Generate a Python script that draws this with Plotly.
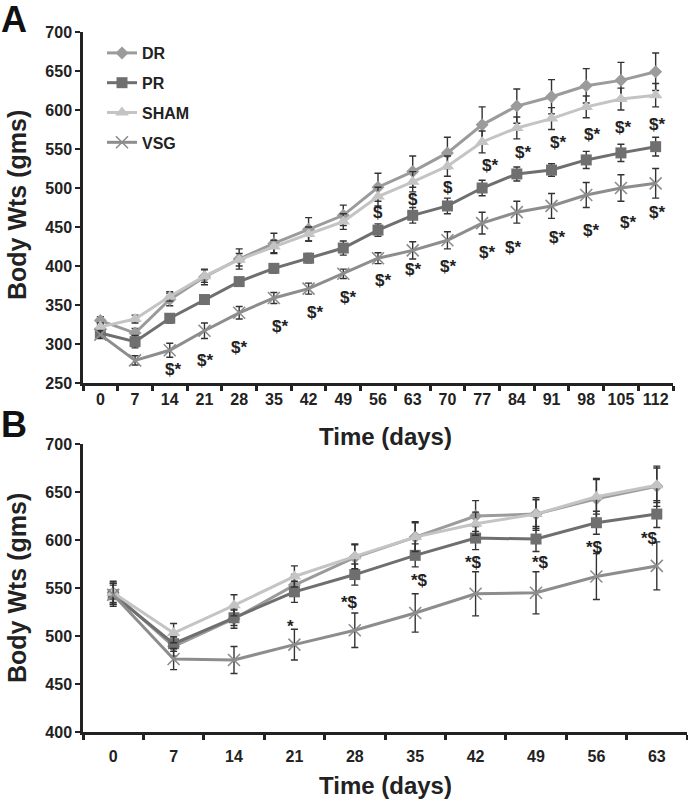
import plotly.graph_objects as go

# ---------------- data ----------------
days_a = [0, 7, 14, 21, 28, 35, 42, 49, 56, 63, 70, 77, 84, 91, 98, 105, 112]
dr_a = [330, 314, 357, 386, 409, 429, 447, 465, 501, 521, 545, 581, 605, 617, 631, 638, 649]
pr_a = [314, 303, 333, 357, 380, 397, 410, 423, 446, 465, 477, 500, 518, 523, 536, 545, 553]
sham_a = [322, 332, 361, 387, 408, 425, 441, 457, 489, 508, 528, 559, 577, 589, 604, 614, 619]
vsg_a = [312, 279, 292, 317, 340, 359, 371, 390, 410, 420, 433, 455, 469, 477, 491, 500, 506]
dr_a_err = [5, 6, 8, 10, 13, 13, 15, 13, 18, 20, 20, 23, 22, 22, 22, 23, 24]
pr_a_err = [6, 8, 6, 5, 5, 6, 6, 9, 8, 10, 10, 10, 9, 8, 11, 11, 12]
sham_a_err = [5, 5, 6, 8, 8, 8, 9, 10, 12, 13, 13, 14, 14, 14, 14, 14, 15]
vsg_a_err = [5, 6, 9, 10, 8, 7, 7, 6, 7, 11, 11, 14, 14, 16, 16, 17, 19]

days_b = [0, 7, 14, 21, 28, 35, 42, 49, 56, 63]
dr_b = [545, 489, 518, 553, 582, 603, 625, 627, 643, 656]
pr_b = [543, 492, 519, 546, 564, 584, 602, 601, 618, 627]
sham_b = [545, 503, 532, 562, 583, 603, 617, 627, 645, 657]
vsg_b = [543, 476, 475, 491, 506, 524, 544, 545, 562, 573]
dr_b_err = [12, 10, 10, 11, 13, 16, 16, 17, 21, 21]
pr_b_err = [10, 8, 8, 11, 11, 12, 12, 13, 12, 14]
sham_b_err = [10, 10, 11, 11, 13, 15, 12, 15, 18, 18]
vsg_b_err = [12, 11, 14, 16, 18, 20, 23, 22, 24, 25]

# significance labels (text, x, y)
sig_a_vsg_x = [14.65, 21.1, 28, 36.2, 43.3, 49.9, 57, 63.1, 70.1, 78, 83.2, 92.1, 99, 106.4, 112.3]
sig_a_vsg_y = [267, 279, 296, 322, 340, 360, 382, 395, 399, 417, 424, 437, 446, 456, 469]
sig_a_pr_text = ["$", "$", "$", "$*", "$*", "$*", "$*", "$*", "$*"]
sig_a_pr_x = [56.0, 63.1, 70.1, 78.6, 85.2, 92.3, 99.2, 105.4, 112.3]
sig_a_pr_y = [468, 485, 501, 529, 546, 558, 568, 578, 582]
sig_b_text = ["*", "*$", "*$", "*$", "*$", "*$", "*$"]
sig_b_x = [20.5, 27.4, 35.5, 41.7, 49.5, 55.8, 62.2]
sig_b_y = [510, 535, 558, 577, 577, 592, 602]

W, H = 688, 803
FONT = "Liberation Sans, Arial, sans-serif"
TXT = "#222222"


def safe(t):
    # avoid LaTeX interpretation of '$'
    return t.replace("$", "&#36;")


series = [
    ("DR", dr_a, dr_a_err, dr_b, dr_b_err, "#9b9b9b", "diamond", 10),
    ("PR", pr_a, pr_a_err, pr_b, pr_b_err, "#6f6f6f", "square", 11),
    ("SHAM", sham_a, sham_a_err, sham_b, sham_b_err, "#c4c4c4", "triangle-up", 12),
    ("VSG", vsg_a, vsg_a_err, vsg_b, vsg_b_err, "#8d8d8d", "x-thin", 12),
]

fig = go.Figure()
for name, ya, ea, yb, eb, col, sym, sz in series:
    mk = dict(symbol=sym, size=sz, color=col, line=dict(width=1.6 if sym == "x-thin" else 0, color=col))
    eb_style = dict(type="data", color="#333333", thickness=1.4, width=3.5)
    fig.add_trace(go.Scatter(x=days_a, y=ya, name=name, mode="lines+markers",
                             line=dict(color=col, width=3), marker=mk,
                             error_y=dict(array=ea, **eb_style),
                             legendgroup=name, xaxis="x", yaxis="y"))
    fig.add_trace(go.Scatter(x=days_b, y=yb, name=name, mode="lines+markers",
                             line=dict(color=col, width=3), marker=mk,
                             error_y=dict(array=eb, **eb_style),
                             legendgroup=name, showlegend=False, xaxis="x2", yaxis="y2"))

ann = []
sig_font = dict(family=FONT, size=17, color=TXT, weight="bold")
for x, y in zip(sig_a_vsg_x, sig_a_vsg_y):
    ann.append(dict(text=safe("$*"), x=x, y=y, xref="x", yref="y", showarrow=False, font=sig_font))
for t, x, y in zip(sig_a_pr_text, sig_a_pr_x, sig_a_pr_y):
    ann.append(dict(text=safe(t), x=x, y=y, xref="x", yref="y", showarrow=False, font=sig_font))
for t, x, y in zip(sig_b_text, sig_b_x, sig_b_y):
    ann.append(dict(text=safe(t), x=x, y=y, xref="x2", yref="y2", showarrow=False, font=sig_font))

title_font = dict(family=FONT, size=24, color=TXT, weight="bold")
ytitle_font = dict(family=FONT, size=25, color=TXT, weight="bold")


def pyf(p):
    return 1 - p / H


letter_font = dict(family=FONT, size=36, color="#111111", weight="bold")
centered = dict(xref="paper", yref="paper", showarrow=False, xanchor="center", yanchor="middle")
ann += [
    dict(text="Time (days)", x=385 / W, y=pyf(437), font=title_font, **centered),
    dict(text="Time (days)", x=385 / W, y=pyf(785), font=title_font, **centered),
    dict(text="Body Wts (gms)", x=17 / W, y=pyf(205), textangle=-90, font=ytitle_font, **centered),
    dict(text="Body Wts (gms)", x=17 / W, y=pyf(588), textangle=-90, font=ytitle_font, **centered),
    dict(text="A", x=14 / W, y=pyf(20), font=letter_font, **centered),
    dict(text="B", x=14 / W, y=pyf(424), font=letter_font, **centered),
]

tick_font = dict(family=FONT, size=16, color=TXT, weight="bold")
axis_common = dict(showline=True, linewidth=2.5, linecolor="#222222", showgrid=False,
                   zeroline=False, tickfont=tick_font)


def xaxis_def(domain, rng, days, lab_len, anchor):
    return dict(domain=domain, range=rng, anchor=anchor, tickmode="array", tickvals=days,
                ticktext=[str(d) for d in days],
                ticks="outside" if lab_len > 0 else "", ticklen=max(lab_len, 1),
                tickcolor="rgba(0,0,0,0)",
                minor=dict(tickmode="array", tickvals=[d - 3.5 for d in days] + [days[-1] + 3.5],
                           ticks="outside", ticklen=5, tickwidth=2.5, tickcolor="#222222"),
                **axis_common)


fig.update_layout(
    width=W, height=H, margin=dict(l=0, r=0, t=0, b=0, autoexpand=False),
    paper_bgcolor="white", plot_bgcolor="white",
    xaxis=xaxis_def([83 / W, 673 / W], [-3.5, 115.5], days_a, 0, "y"),
    yaxis=dict(domain=[pyf(383), pyf(32)], range=[250, 700], dtick=50, anchor="x",
               ticks="outside", ticklen=5, tickwidth=2, tickcolor="#222222", **axis_common),
    xaxis2=xaxis_def([83 / W, 687 / W], [-3.5, 66.5], days_b, 8, "y2"),
    yaxis2=dict(domain=[pyf(732), pyf(444)], range=[400, 700], dtick=50, anchor="x2",
                ticks="outside", ticklen=5, tickwidth=2, tickcolor="#222222", **axis_common),
    legend=dict(x=102 / W, y=pyf(36), xanchor="left", yanchor="top", bgcolor="rgba(0,0,0,0)",
                font=dict(family=FONT, size=16, color=TXT, weight="bold"),
                tracegroupgap=6, itemwidth=30),
    annotations=ann,
    showlegend=True,
)

fig.write_html("out.html", config={"displayModeBar": False},
               post_script="document.body.style.margin='0px';document.body.style.overflow='hidden';")
